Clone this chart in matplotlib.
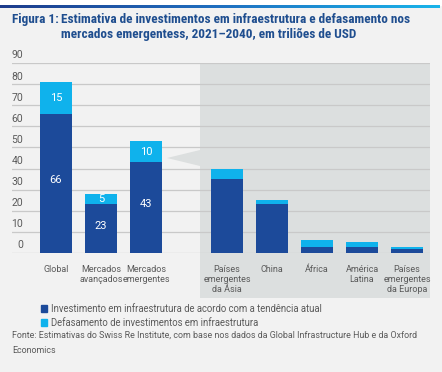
import numpy as np
import matplotlib
matplotlib.use("Agg")
import matplotlib.pyplot as plt
from matplotlib.patches import Rectangle, Polygon, Patch
from matplotlib.transforms import ScaledTranslation
from matplotlib.colors import LinearSegmentedColormap

categories = ["Global", "Mercados\navançados", "Mercados\nemergentes",
              "Países\nemergentes\nda Ásia", "China", "África",
              "América\nLatina", "Países\nemergentes\nda Europa"]
trend = [66, 23, 43, 35, 23, 3, 3, 2]
gap = [15, 5, 10, 5, 2, 3, 2, 1]
show_labels = [True, True, True, False, False, False, False, False]
yticks = [0, 10, 20, 30, 40, 50, 60, 70, 80, 90]

title_head = "Figura 1:"
title_body = ("Estimativa de investimentos em infraestrutura e defasamento nos\n"
              "mercados emergentess, 2021–2040, em triliões de USD")
legend_labels = ["Investimento em infraestrutura de acordo com a tendência atual",
                 "Defasamento de investimentos em infraestrutura"]
source = ("Fonte: Estimativas do Swiss Re Institute, com base nos dados da Global Infrastructure Hub e da Oxford\n"
          "Economics")

DARK = "#1c4a9a"
LIGHT = "#0fb2ec"
BG = "#f2f2f2"
SHADE = "#dcdfdf"
TXT = "#5a5a5a"
TITLE = "#1f4e8f"

COND = ['Roboto Condensed', 'Liberation Sans Narrow', 'Roboto', 'DejaVu Sans']
BODY = ['Roboto', 'DejaVu Sans']
plt.rcParams['font.family'] = BODY

W, H = 442, 372
fig = plt.figure(figsize=(W / 100, H / 100), dpi=100, facecolor=BG)


def fx(px):
    return px / W


def fy(py):
    return 1 - py / H


# top gradient strip
gax = fig.add_axes([0, fy(8), fx(440), fy(5) - fy(8)])
grad = np.linspace(0, 1, 256).reshape(1, -1)
cmap = LinearSegmentedColormap.from_list("strip", ["#1d3c8c", "#1f6fc0", "#19b4ea"])
gax.imshow(grad, aspect="auto", cmap=cmap)
gax.axis("off")
fig.patches.append(Rectangle((0, fy(5)), 1, fy(0) - fy(5), transform=fig.transFigure,
                             color="white", zorder=-2))

# shaded region for emerging markets breakdown
fig.patches.append(Rectangle((fx(200), fy(298)), fx(430) - fx(200), fy(63) - fy(298),
                             transform=fig.transFigure, color=SHADE, zorder=-1, lw=0))
fig.patches.append(Polygon([(fx(167), fy(158)), (fx(200), fy(150)), (fx(200), fy(166))],
                           closed=True, transform=fig.transFigure, color=SHADE, zorder=-1, lw=0))

# main axes: x unit = 45 px, first bar centre at px 56
ax = fig.add_axes([fx(12), fy(253), fx(430) - fx(12), fy(63) - fy(253)])
ax.patch.set_visible(False)
x = np.array([0, 1, 2, 3.8, 4.8, 5.8, 6.8, 7.8])
ax.set_xlim((12 - 56) / 45, (430 - 56) / 45)
ax.set_ylim(0, 90)

b1 = ax.bar(x, trend, width=0.71, color=DARK, zorder=3)
b2 = ax.bar(x, gap, bottom=trend, width=0.71, color=LIGHT, zorder=3)

for i in range(len(x)):
    if show_labels[i]:
        ax.text(x[i], trend[i] / 2 + 1.5, str(trend[i]), ha="center", va="center",
                color="white", fontsize=8, zorder=4)
        ax.text(x[i], trend[i] + gap[i] / 2, str(gap[i]), ha="center", va="center",
                color="white", fontsize=8, zorder=4)

ax.set_yticks(yticks)
ax.yaxis.grid(True, color="#c9c9c9", lw=0.9, zorder=0)
ax.tick_params(axis="y", length=0, pad=-8, labelsize=7.5, labelcolor=TXT)
for lbl in ax.get_yticklabels():
    lbl.set_horizontalalignment("right")
    lbl.set_transform(lbl.get_transform() + ScaledTranslation(0, 0.085, fig.dpi_scale_trans))

ax.set_xticks(x)
ax.set_xticklabels(categories, fontsize=6.5, color=TXT, linespacing=1.1)
ax.tick_params(axis="x", length=0, pad=9)
for s in ax.spines.values():
    s.set_visible(False)

# titles
fig.text(fx(12), fy(20), title_head, ha="left", va="center", fontsize=9.5,
         fontweight="bold", color=TITLE, family=COND)
fig.text(fx(61), fy(27), title_body, ha="left", va="center", fontsize=9.5,
         fontweight="bold", color=TITLE, linespacing=1.25, family=COND)

# legend
handles = [Patch(color=DARK), Patch(color=LIGHT)]
fig.legend(handles, legend_labels, loc="upper left", bbox_to_anchor=(fx(41), fy(304)),
           frameon=False, handlelength=0.65, handleheight=0.65,
           handletextpad=0.45, labelspacing=0.4, borderpad=0, borderaxespad=0,
           labelcolor=TXT, prop={"size": 6.85, "family": BODY})

fig.text(fx(12), fy(343), source, ha="left", va="center", fontsize=6.4,
         color=TXT, linespacing=1.9)

fig.savefig("out.png", dpi=100, facecolor=BG)
